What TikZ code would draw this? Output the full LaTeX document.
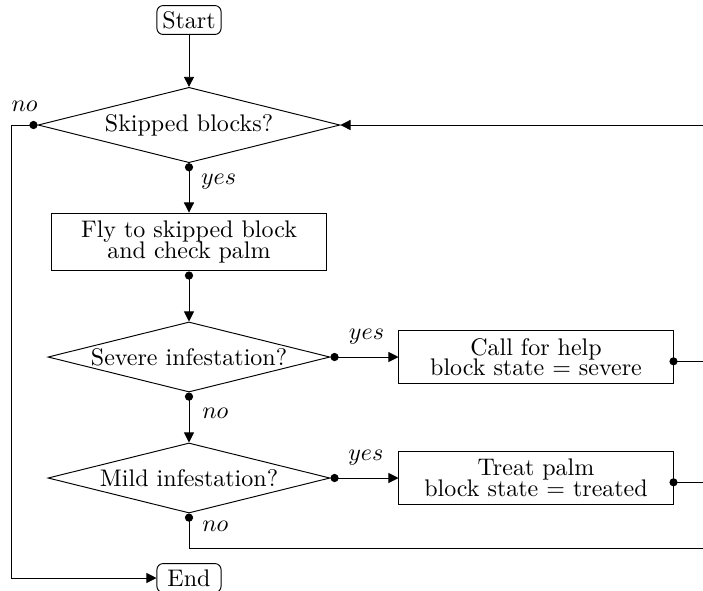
\documentclass[tikz,border=0pt]{standalone}
\usetikzlibrary{shapes.geometric,arrows.meta}
\begin{document}
\begin{tikzpicture}[x=0.4167pt,y=-0.4167pt,
  box/.style={draw, rectangle, align=center, minimum width=114.2pt, inner sep=3.33pt},
  dec/.style={draw, diamond, shape aspect=4, inner sep=0pt},
  term/.style={draw, rounded corners=2.5pt, minimum width=26.7pt, minimum height=12pt, inner sep=2pt},
  flow/.style={-{Triangle[length=4.2pt,width=4.2pt]}},
  dflow/.style={{Circle[length=3.4pt]}-{Triangle[length=4.2pt,width=4.2pt]}},
  dline/.style={{Circle[length=3.4pt]}-},
  lbl/.style={inner sep=3.33pt}]
\useasboundingbox (0,0) rectangle (703,590);
\clip (0,0) rectangle (703,590);
\coordinate (redge) at (706,0);

\node[term] (start) at (189,20) {Start};
\node[dec, minimum width=125.8pt, minimum height=31.4pt] (d1) at (189,125) {Skipped blocks?};
\node[box] (fly) at (189,242) {Fly to skipped block\\[-3.4pt]and check palm};
\node[dec, minimum width=117.5pt, minimum height=29.2pt] (d2) at (189,357) {Severe infestation?};
\node[box] (call) at (536,357) {Call for help\\[-3.4pt]block state $=$ severe};
\node[dec, minimum width=117.5pt, minimum height=29.2pt] (d3) at (189,478) {Mild infestation?};
\node[box] (treat) at (536,478) {Treat palm\\[-3.4pt]block state $=$ treated};
\node[term] (end) at (189,578) {End};

\draw[flow] (start) -- (d1);
\draw[dflow] (d1.south) -- node[lbl,right=1.5pt,pos=0.37]{$yes$} (fly.north);
\draw[dflow] (fly.south) -- (d2.north);
\draw[dflow] (d2.east) -- node[lbl,above=2pt,pos=0.53]{$yes$} (call.west);
\draw[dflow] (d2.south) -- node[lbl,right=2pt,pos=0.41]{$no$} (d3.north);
\draw[dflow] (d3.east) -- node[lbl,above=2pt,pos=0.52]{$yes$} (treat.west);
\draw[dline] (d3.south) -- node[lbl,right=2pt,pos=0.37]{$no$} ++(0,35) coordinate (b1) -- (b1 -| redge);
\draw[dflow] (d1.west) -- node[lbl,above=2pt]{$no$} ++(-26,0) |- (end.west);
\draw[flow] (d1.east -| redge) -- (d1.east);

\path ([yshift=-1.8pt]call.east) coordinate (cd);
\path ([yshift=-1.8pt]treat.east) coordinate (td);
\fill (cd) circle (1.7pt);
\fill (td) circle (1.7pt);
\draw (cd) -- (cd -| redge);
\draw (td) -- (td -| redge);
\end{tikzpicture}
\end{document}
